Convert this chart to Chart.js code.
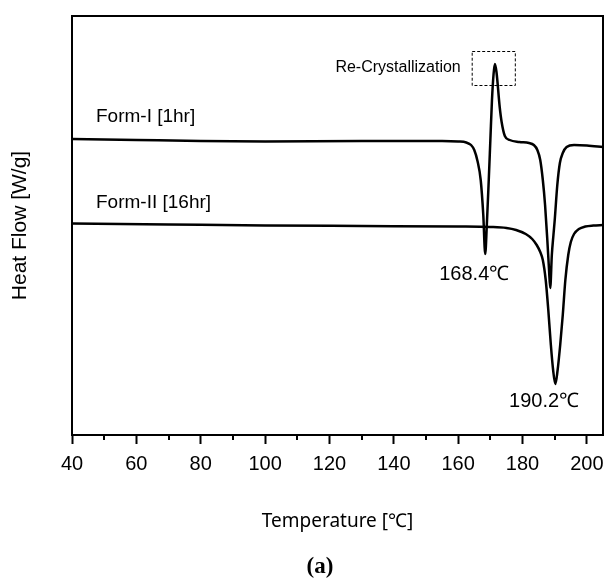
<!DOCTYPE html>
<html>
<head>
<meta charset="utf-8">
<script src="https://cdn.jsdelivr.net/npm/chart.js@4.4.0/dist/chart.umd.min.js"></script>
<style>
  html, body { margin: 0; padding: 0; background: #fff; }
  canvas { display: block; }
</style>
</head>
<body>
<canvas id="dscChart" width="606" height="582"></canvas>
<script>
// Temperature (°C) and heat flow (arbitrary offset units, endo down)
const formITemp = [40, 60, 80, 100, 130, 155, 160, 162.5, 164, 165, 166, 167, 167.8, 168.4,
  168.9, 169.5, 170.0, 170.5, 171.0, 171.4, 171.9, 172.9, 173.5, 174.5, 176, 179, 182, 183.5,
  184.6, 185.5, 186.3, 187.0, 187.7, 188.2, 188.6, 189.1, 189.6, 190.0, 190.8, 191.6, 192.5,
  193.7, 196, 200, 205];
const formIFlow = [29.6, 29.5, 29.4, 29.35, 29.4, 29.4, 29.35, 29.25, 29.0, 28.5, 27.4, 25.5, 22.0, 18.1,
  21.0, 25.5, 29.5, 33.5, 36.1, 37.1, 36.3, 32.8, 31.3, 29.9, 29.5, 29.3, 29.2, 29.0,
  28.5, 27.5, 25.5, 23.0, 19.5, 16.7, 14.7, 18.0, 20.0, 21.5, 25.0, 27.2, 28.2,
  28.8, 29.0, 28.95, 28.8];

const formIITemp = [40, 70, 100, 130, 160, 170, 175, 178, 181, 183, 184.4, 185.5, 186.3, 187.2,
  188.0, 188.8, 189.5, 190.2, 190.9, 191.7, 192.5, 193.3, 194.2, 195.0, 196.0, 197.5, 199.5,
  202, 205];
const formIIFlow = [21.15, 21.05, 20.95, 20.9, 20.85, 20.8, 20.7, 20.5, 20.1, 19.6, 19.0, 18.3, 17.5, 15.5,
  12.5, 9.0, 6.5, 5.1, 6.5, 9.0, 12.0, 15.5, 18.0, 19.3, 20.1, 20.6, 20.85,
  20.95, 21.0];

const minorTicks = [50, 70, 90, 110, 130, 150, 170, 190];

// text labels anchored in data units
const notes = [
  { text: "Form-I [1hr]", x: 47.45, y: 31.8, align: "left", size: 19 },
  { text: "Form-II [16hr]", x: 47.45, y: 23.2, align: "left", size: 19 },
  { text: "168.4℃", x: 165.0, y: 16.1, align: "center", size: 20 },
  { text: "190.2℃", x: 186.7, y: 3.4, align: "center", size: 20 },
  { text: "Re-Crystallization", x: 160.8, y: 36.74, align: "right", size: 16 },
];
const boxX = [164.2, 177.6];
const boxY = [35.0, 38.4];

const toPoints = (xs, ys) => xs.map((x, i) => ({ x: x, y: ys[i] }));

const extras = {
  id: "extras",
  afterDraw(chart) {
    const ctx = chart.ctx;
    const xs = chart.scales.x;
    const ys = chart.scales.y;
    const area = chart.chartArea;
    ctx.save();
    ctx.strokeStyle = "#000";
    ctx.lineWidth = 2;
    // top and right frame
    ctx.beginPath();
    ctx.moveTo(area.left, area.top);
    ctx.lineTo(area.right, area.top);
    ctx.lineTo(area.right, area.bottom);
    ctx.stroke();
    // minor ticks
    ctx.beginPath();
    minorTicks.forEach((v) => {
      const px = Math.round(xs.getPixelForValue(v));
      ctx.moveTo(px, area.bottom);
      ctx.lineTo(px, area.bottom + 5);
    });
    ctx.stroke();
    // dashed box
    ctx.lineWidth = 1;
    ctx.setLineDash([3, 2]);
    const bx0 = xs.getPixelForValue(boxX[0]);
    const bx1 = xs.getPixelForValue(boxX[1]);
    const by0 = ys.getPixelForValue(boxY[1]);
    const by1 = ys.getPixelForValue(boxY[0]);
    ctx.strokeRect(bx0 + 0.5, by0 + 0.5, bx1 - bx0, by1 - by0);
    ctx.setLineDash([]);
    // notes
    ctx.fillStyle = "#000";
    ctx.textBaseline = "middle";
    notes.forEach((n) => {
      ctx.font = n.size + "px 'Liberation Sans', Arial, sans-serif";
      ctx.textAlign = n.align;
      ctx.fillText(n.text, xs.getPixelForValue(n.x), ys.getPixelForValue(n.y));
    });
    // panel label
    ctx.font = "bold 23px 'Liberation Serif', 'DejaVu Serif', serif";
    ctx.textAlign = "center";
    ctx.fillText("(a)", 320, 567);
    ctx.restore();
  },
};

new Chart(document.getElementById("dscChart"), {
  type: "line",
  data: {
    datasets: [
      {
        label: "Form-I [1hr]",
        data: toPoints(formITemp, formIFlow),
        borderColor: "#000",
        borderWidth: 2.5,
        pointRadius: 0,
        cubicInterpolationMode: "monotone",
        fill: false,
      },
      {
        label: "Form-II [16hr]",
        data: toPoints(formIITemp, formIIFlow),
        borderColor: "#000",
        borderWidth: 2.5,
        pointRadius: 0,
        cubicInterpolationMode: "monotone",
        fill: false,
      },
    ],
  },
  options: {
    responsive: false,
    animation: false,
    devicePixelRatio: 1,
    layout: { padding: { top: 16, right: 3, left: 0, bottom: 0 } },
    plugins: {
      legend: { display: false },
      tooltip: { enabled: false },
    },
    scales: {
      x: {
        type: "linear",
        min: 40,
        max: 205,
        afterFit: (s) => { s.height = 147; s.paddingRight = 0; },
        ticks: {
          stepSize: 20,
          includeBounds: false,
          autoSkip: false,
          maxRotation: 0,
          padding: 8,
          color: "#000",
          font: { family: "'Liberation Sans', Arial, sans-serif", size: 20 },
        },
        grid: {
          drawOnChartArea: false,
          tickLength: 9,
          tickWidth: 2,
          tickColor: "#000",
        },
        border: { color: "#000", width: 2 },
        title: {
          display: true,
          text: "Temperature [℃]",
          color: "#000",
          font: { family: "'Noto Sans', 'Open Sans', sans-serif", size: 19 },
          padding: { top: 0, bottom: 49 },
        },
      },
      y: {
        min: 0,
        max: 41.9,
        afterFit: (s) => { s.width = 72; },
        ticks: { display: false },
        grid: { display: false },
        border: { color: "#000", width: 2 },
        title: {
          display: true,
          text: "Heat Flow [W/g]",
          color: "#000",
          font: { family: "'Liberation Sans', Arial, sans-serif", size: 21 },
          padding: { top: 8, bottom: 0 },
        },
      },
    },
  },
  plugins: [extras],
});
</script>
</body>
</html>
